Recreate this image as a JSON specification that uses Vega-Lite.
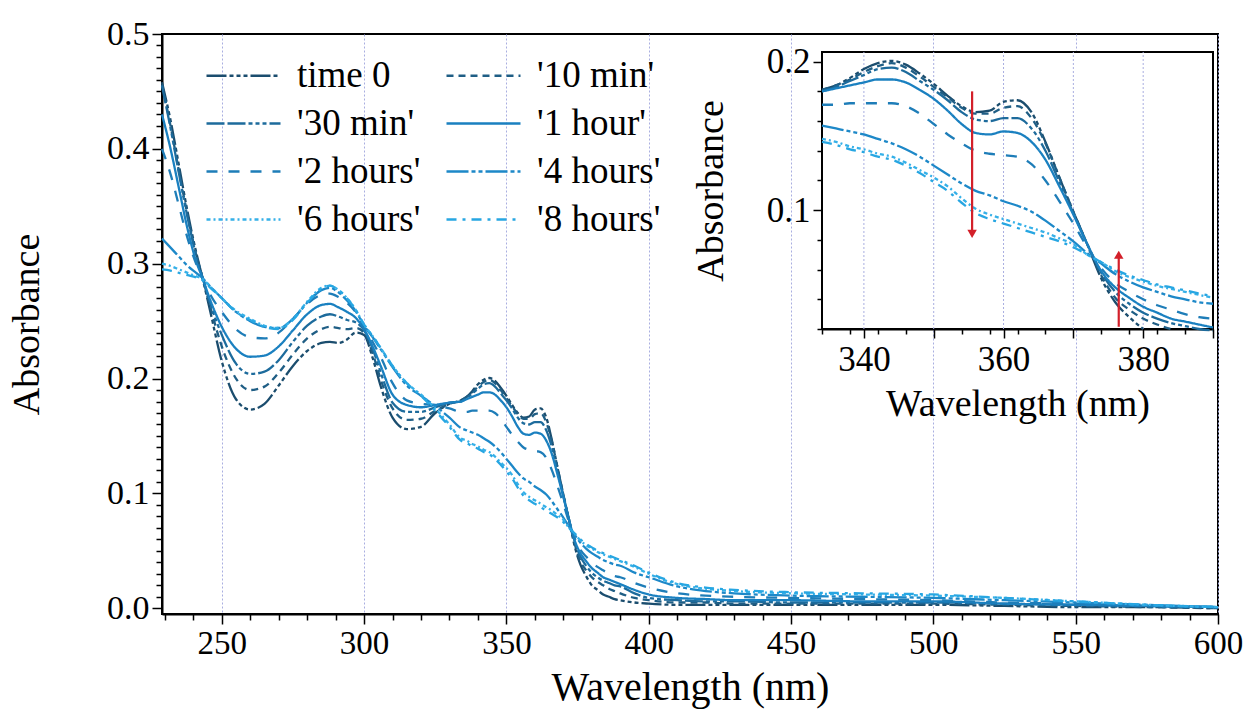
{
"$schema": "https://vega.github.io/schema/vega-lite/v6.json",
"width": 1056, "height": 580,
"autosize": {"type": "none"},
"padding": {"left": 162, "top": 34, "right": 30, "bottom": 97},
"background": "white",
"config": {
  "font": "'Liberation Serif', 'DejaVu Serif', serif",
  "view": {"stroke": "black", "strokeWidth": 2},
  "axis": {"labelFont": "'Liberation Serif', 'DejaVu Serif', serif", "titleFont": "'Liberation Serif', 'DejaVu Serif', serif", "labelColor": "black", "titleColor": "black", "domainColor": "black", "tickColor": "black", "titleFontWeight": "normal", "domainWidth": 2, "tickWidth": 1.5, "labelOverlap": false, "labelFlush": false},
  "legend": {"labelFont": "'Liberation Serif', 'DejaVu Serif', serif", "labelColor": "black"}
},
"datasets": {
"spec": [
{"t":"time 0","w":229,"a":0.458},{"t":"time 0","w":232,"a":0.425},{"t":"time 0","w":235,"a":0.385},{"t":"time 0","w":238,"a":0.345},{"t":"time 0","w":241,"a":0.31},{"t":"time 0","w":243,"a":0.29},{"t":"time 0","w":246,"a":0.258},{"t":"time 0","w":250,"a":0.215},{"t":"time 0","w":255,"a":0.182},{"t":"time 0","w":260,"a":0.173},{"t":"time 0","w":265,"a":0.178},{"t":"time 0","w":270,"a":0.194},{"t":"time 0","w":275,"a":0.211},{"t":"time 0","w":280,"a":0.224},{"t":"time 0","w":285,"a":0.231},{"t":"time 0","w":288,"a":0.232},{"t":"time 0","w":291,"a":0.231},{"t":"time 0","w":294,"a":0.234},{"t":"time 0","w":297,"a":0.24},{"t":"time 0","w":300,"a":0.238},{"t":"time 0","w":303,"a":0.218},{"t":"time 0","w":306,"a":0.192},{"t":"time 0","w":310,"a":0.166},{"t":"time 0","w":315,"a":0.156},{"t":"time 0","w":320,"a":0.158},{"t":"time 0","w":325,"a":0.17},{"t":"time 0","w":330,"a":0.178},
{"t":"time 0","w":334,"a":0.181},{"t":"time 0","w":336,"a":0.184},{"t":"time 0","w":338,"a":0.189},{"t":"time 0","w":340,"a":0.195},{"t":"time 0","w":342,"a":0.199},{"t":"time 0","w":344,"a":0.2005},{"t":"time 0","w":346,"a":0.198},{"t":"time 0","w":348,"a":0.192},{"t":"time 0","w":350,"a":0.185},{"t":"time 0","w":352,"a":0.177},{"t":"time 0","w":354,"a":0.17},{"t":"time 0","w":356,"a":0.166},{"t":"time 0","w":358,"a":0.167},{"t":"time 0","w":360,"a":0.173},{"t":"time 0","w":362,"a":0.174},{"t":"time 0","w":364,"a":0.166},{"t":"time 0","w":366,"a":0.146},{"t":"time 0","w":368,"a":0.122},{"t":"time 0","w":370,"a":0.099},{"t":"time 0","w":372,"a":0.077},{"t":"time 0","w":374,"a":0.054},{"t":"time 0","w":376,"a":0.038},{"t":"time 0","w":378,"a":0.028},{"t":"time 0","w":380,"a":0.02},{"t":"time 0","w":382,"a":0.016},{"t":"time 0","w":384,"a":0.012},{"t":"time 0","w":386,"a":0.01},{"t":"time 0","w":388,"a":0.008},{"t":"time 0","w":390,"a":0.007},
{"t":"time 0","w":395,"a":0.005},{"t":"time 0","w":400,"a":0.004},{"t":"time 0","w":410,"a":0.003},{"t":"time 0","w":420,"a":0.003},{"t":"time 0","w":430,"a":0.003},{"t":"time 0","w":450,"a":0.003},{"t":"time 0","w":475,"a":0.003},{"t":"time 0","w":500,"a":0.003},{"t":"time 0","w":525,"a":0.002},{"t":"time 0","w":550,"a":0.001},{"t":"time 0","w":575,"a":0.001},{"t":"time 0","w":600,"a":0.0},

{"t":"'10 min'","w":229,"a":0.456},{"t":"'10 min'","w":232,"a":0.42},{"t":"'10 min'","w":235,"a":0.38},{"t":"'10 min'","w":238,"a":0.342},{"t":"'10 min'","w":241,"a":0.308},{"t":"'10 min'","w":243,"a":0.29},{"t":"'10 min'","w":246,"a":0.262},{"t":"'10 min'","w":250,"a":0.228},{"t":"'10 min'","w":255,"a":0.2},{"t":"'10 min'","w":260,"a":0.19},{"t":"'10 min'","w":265,"a":0.193},{"t":"'10 min'","w":270,"a":0.205},{"t":"'10 min'","w":275,"a":0.221},{"t":"'10 min'","w":280,"a":0.235},{"t":"'10 min'","w":285,"a":0.243},{"t":"'10 min'","w":288,"a":0.245},{"t":"'10 min'","w":291,"a":0.244},{"t":"'10 min'","w":294,"a":0.243},{"t":"'10 min'","w":297,"a":0.244},{"t":"'10 min'","w":300,"a":0.24},{"t":"'10 min'","w":303,"a":0.222},{"t":"'10 min'","w":306,"a":0.198},{"t":"'10 min'","w":310,"a":0.174},{"t":"'10 min'","w":315,"a":0.164},{"t":"'10 min'","w":320,"a":0.165},{"t":"'10 min'","w":325,"a":0.172},{"t":"'10 min'","w":330,"a":0.178},
{"t":"'10 min'","w":334,"a":0.181},{"t":"'10 min'","w":336,"a":0.184},{"t":"'10 min'","w":338,"a":0.188},{"t":"'10 min'","w":340,"a":0.193},{"t":"'10 min'","w":342,"a":0.197},{"t":"'10 min'","w":344,"a":0.199},{"t":"'10 min'","w":346,"a":0.196},{"t":"'10 min'","w":348,"a":0.19},{"t":"'10 min'","w":350,"a":0.183},{"t":"'10 min'","w":352,"a":0.176},{"t":"'10 min'","w":354,"a":0.169},{"t":"'10 min'","w":356,"a":0.165},{"t":"'10 min'","w":358,"a":0.165},{"t":"'10 min'","w":360,"a":0.169},{"t":"'10 min'","w":362,"a":0.17},{"t":"'10 min'","w":364,"a":0.162},{"t":"'10 min'","w":366,"a":0.145},{"t":"'10 min'","w":368,"a":0.122},{"t":"'10 min'","w":370,"a":0.099},{"t":"'10 min'","w":372,"a":0.077},{"t":"'10 min'","w":374,"a":0.056},{"t":"'10 min'","w":376,"a":0.041},{"t":"'10 min'","w":378,"a":0.033},{"t":"'10 min'","w":380,"a":0.027},{"t":"'10 min'","w":382,"a":0.023},{"t":"'10 min'","w":384,"a":0.02},{"t":"'10 min'","w":386,"a":0.017},{"t":"'10 min'","w":388,"a":0.015},{"t":"'10 min'","w":390,"a":0.013},
{"t":"'10 min'","w":395,"a":0.009},{"t":"'10 min'","w":400,"a":0.007},{"t":"'10 min'","w":410,"a":0.005},{"t":"'10 min'","w":420,"a":0.005},{"t":"'10 min'","w":430,"a":0.004},{"t":"'10 min'","w":450,"a":0.004},{"t":"'10 min'","w":475,"a":0.004},{"t":"'10 min'","w":500,"a":0.004},{"t":"'10 min'","w":525,"a":0.003},{"t":"'10 min'","w":550,"a":0.002},{"t":"'10 min'","w":575,"a":0.001},{"t":"'10 min'","w":600,"a":0.0},

{"t":"'30 min'","w":229,"a":0.455},{"t":"'30 min'","w":232,"a":0.418},{"t":"'30 min'","w":235,"a":0.378},{"t":"'30 min'","w":238,"a":0.34},{"t":"'30 min'","w":241,"a":0.307},{"t":"'30 min'","w":243,"a":0.29},{"t":"'30 min'","w":246,"a":0.265},{"t":"'30 min'","w":250,"a":0.238},{"t":"'30 min'","w":255,"a":0.213},{"t":"'30 min'","w":260,"a":0.204},{"t":"'30 min'","w":265,"a":0.206},{"t":"'30 min'","w":270,"a":0.216},{"t":"'30 min'","w":275,"a":0.232},{"t":"'30 min'","w":280,"a":0.246},{"t":"'30 min'","w":285,"a":0.254},{"t":"'30 min'","w":288,"a":0.256},{"t":"'30 min'","w":291,"a":0.254},{"t":"'30 min'","w":294,"a":0.251},{"t":"'30 min'","w":297,"a":0.249},{"t":"'30 min'","w":300,"a":0.242},{"t":"'30 min'","w":303,"a":0.226},{"t":"'30 min'","w":306,"a":0.204},{"t":"'30 min'","w":310,"a":0.179},{"t":"'30 min'","w":315,"a":0.171},{"t":"'30 min'","w":320,"a":0.171},{"t":"'30 min'","w":325,"a":0.175},{"t":"'30 min'","w":330,"a":0.179},
{"t":"'30 min'","w":334,"a":0.18},{"t":"'30 min'","w":336,"a":0.183},{"t":"'30 min'","w":338,"a":0.187},{"t":"'30 min'","w":340,"a":0.191},{"t":"'30 min'","w":342,"a":0.195},{"t":"'30 min'","w":344,"a":0.196},{"t":"'30 min'","w":346,"a":0.193},{"t":"'30 min'","w":348,"a":0.187},{"t":"'30 min'","w":350,"a":0.181},{"t":"'30 min'","w":352,"a":0.174},{"t":"'30 min'","w":354,"a":0.166},{"t":"'30 min'","w":356,"a":0.161},{"t":"'30 min'","w":358,"a":0.16},{"t":"'30 min'","w":360,"a":0.162},{"t":"'30 min'","w":362,"a":0.162},{"t":"'30 min'","w":364,"a":0.155},{"t":"'30 min'","w":366,"a":0.14},{"t":"'30 min'","w":368,"a":0.119},{"t":"'30 min'","w":370,"a":0.098},{"t":"'30 min'","w":372,"a":0.077},{"t":"'30 min'","w":374,"a":0.058},{"t":"'30 min'","w":376,"a":0.045},{"t":"'30 min'","w":378,"a":0.037},{"t":"'30 min'","w":380,"a":0.031},{"t":"'30 min'","w":382,"a":0.027},{"t":"'30 min'","w":384,"a":0.024},{"t":"'30 min'","w":386,"a":0.022},{"t":"'30 min'","w":388,"a":0.02},{"t":"'30 min'","w":390,"a":0.019},
{"t":"'30 min'","w":395,"a":0.013},{"t":"'30 min'","w":400,"a":0.009},{"t":"'30 min'","w":410,"a":0.007},{"t":"'30 min'","w":420,"a":0.006},{"t":"'30 min'","w":430,"a":0.006},{"t":"'30 min'","w":450,"a":0.005},{"t":"'30 min'","w":475,"a":0.005},{"t":"'30 min'","w":500,"a":0.005},{"t":"'30 min'","w":525,"a":0.004},{"t":"'30 min'","w":550,"a":0.003},{"t":"'30 min'","w":575,"a":0.002},{"t":"'30 min'","w":600,"a":0.001},

{"t":"'1 hour'","w":229,"a":0.43},{"t":"'1 hour'","w":232,"a":0.4},{"t":"'1 hour'","w":235,"a":0.365},{"t":"'1 hour'","w":238,"a":0.33},{"t":"'1 hour'","w":241,"a":0.302},{"t":"'1 hour'","w":243,"a":0.289},{"t":"'1 hour'","w":246,"a":0.268},{"t":"'1 hour'","w":250,"a":0.245},{"t":"'1 hour'","w":255,"a":0.226},{"t":"'1 hour'","w":260,"a":0.219},{"t":"'1 hour'","w":265,"a":0.22},{"t":"'1 hour'","w":270,"a":0.228},{"t":"'1 hour'","w":275,"a":0.242},{"t":"'1 hour'","w":280,"a":0.256},{"t":"'1 hour'","w":285,"a":0.264},{"t":"'1 hour'","w":288,"a":0.265},{"t":"'1 hour'","w":291,"a":0.262},{"t":"'1 hour'","w":294,"a":0.258},{"t":"'1 hour'","w":297,"a":0.253},{"t":"'1 hour'","w":300,"a":0.243},{"t":"'1 hour'","w":303,"a":0.228},{"t":"'1 hour'","w":306,"a":0.21},{"t":"'1 hour'","w":310,"a":0.186},{"t":"'1 hour'","w":315,"a":0.177},{"t":"'1 hour'","w":320,"a":0.175},{"t":"'1 hour'","w":325,"a":0.177},{"t":"'1 hour'","w":330,"a":0.179},
{"t":"'1 hour'","w":334,"a":0.18},{"t":"'1 hour'","w":336,"a":0.182},{"t":"'1 hour'","w":338,"a":0.184},{"t":"'1 hour'","w":340,"a":0.186},{"t":"'1 hour'","w":342,"a":0.188},{"t":"'1 hour'","w":344,"a":0.188},{"t":"'1 hour'","w":346,"a":0.186},{"t":"'1 hour'","w":348,"a":0.181},{"t":"'1 hour'","w":350,"a":0.175},{"t":"'1 hour'","w":352,"a":0.167},{"t":"'1 hour'","w":354,"a":0.158},{"t":"'1 hour'","w":356,"a":0.152},{"t":"'1 hour'","w":358,"a":0.151},{"t":"'1 hour'","w":360,"a":0.153},{"t":"'1 hour'","w":362,"a":0.152},{"t":"'1 hour'","w":364,"a":0.146},{"t":"'1 hour'","w":366,"a":0.134},{"t":"'1 hour'","w":368,"a":0.116},{"t":"'1 hour'","w":370,"a":0.097},{"t":"'1 hour'","w":372,"a":0.077},{"t":"'1 hour'","w":374,"a":0.059},{"t":"'1 hour'","w":376,"a":0.048},{"t":"'1 hour'","w":378,"a":0.041},{"t":"'1 hour'","w":380,"a":0.035},{"t":"'1 hour'","w":382,"a":0.031},{"t":"'1 hour'","w":384,"a":0.027},{"t":"'1 hour'","w":386,"a":0.025},{"t":"'1 hour'","w":388,"a":0.023},{"t":"'1 hour'","w":390,"a":0.021},
{"t":"'1 hour'","w":395,"a":0.016},{"t":"'1 hour'","w":400,"a":0.012},{"t":"'1 hour'","w":410,"a":0.009},{"t":"'1 hour'","w":420,"a":0.008},{"t":"'1 hour'","w":430,"a":0.007},{"t":"'1 hour'","w":450,"a":0.007},{"t":"'1 hour'","w":475,"a":0.006},{"t":"'1 hour'","w":500,"a":0.006},{"t":"'1 hour'","w":525,"a":0.004},{"t":"'1 hour'","w":550,"a":0.003},{"t":"'1 hour'","w":575,"a":0.002},{"t":"'1 hour'","w":600,"a":0.001},

{"t":"'2 hours'","w":229,"a":0.4},{"t":"'2 hours'","w":232,"a":0.378},{"t":"'2 hours'","w":235,"a":0.35},{"t":"'2 hours'","w":238,"a":0.322},{"t":"'2 hours'","w":241,"a":0.3},{"t":"'2 hours'","w":243,"a":0.289},{"t":"'2 hours'","w":246,"a":0.273},{"t":"'2 hours'","w":250,"a":0.258},{"t":"'2 hours'","w":255,"a":0.243},{"t":"'2 hours'","w":260,"a":0.236},{"t":"'2 hours'","w":265,"a":0.235},{"t":"'2 hours'","w":270,"a":0.24},{"t":"'2 hours'","w":275,"a":0.252},{"t":"'2 hours'","w":280,"a":0.265},{"t":"'2 hours'","w":285,"a":0.273},{"t":"'2 hours'","w":288,"a":0.274},{"t":"'2 hours'","w":291,"a":0.271},{"t":"'2 hours'","w":294,"a":0.266},{"t":"'2 hours'","w":297,"a":0.258},{"t":"'2 hours'","w":300,"a":0.245},{"t":"'2 hours'","w":303,"a":0.232},{"t":"'2 hours'","w":306,"a":0.218},{"t":"'2 hours'","w":310,"a":0.196},{"t":"'2 hours'","w":315,"a":0.181},{"t":"'2 hours'","w":320,"a":0.178},{"t":"'2 hours'","w":325,"a":0.177},{"t":"'2 hours'","w":330,"a":0.174},
{"t":"'2 hours'","w":334,"a":0.171},{"t":"'2 hours'","w":336,"a":0.171},{"t":"'2 hours'","w":338,"a":0.172},{"t":"'2 hours'","w":340,"a":0.172},{"t":"'2 hours'","w":342,"a":0.172},{"t":"'2 hours'","w":344,"a":0.172},{"t":"'2 hours'","w":346,"a":0.17},{"t":"'2 hours'","w":348,"a":0.165},{"t":"'2 hours'","w":350,"a":0.158},{"t":"'2 hours'","w":352,"a":0.151},{"t":"'2 hours'","w":354,"a":0.145},{"t":"'2 hours'","w":356,"a":0.14},{"t":"'2 hours'","w":358,"a":0.138},{"t":"'2 hours'","w":360,"a":0.137},{"t":"'2 hours'","w":362,"a":0.136},{"t":"'2 hours'","w":364,"a":0.131},{"t":"'2 hours'","w":366,"a":0.12},{"t":"'2 hours'","w":368,"a":0.106},{"t":"'2 hours'","w":370,"a":0.091},{"t":"'2 hours'","w":372,"a":0.075},{"t":"'2 hours'","w":374,"a":0.061},{"t":"'2 hours'","w":376,"a":0.051},{"t":"'2 hours'","w":378,"a":0.045},{"t":"'2 hours'","w":380,"a":0.04},{"t":"'2 hours'","w":382,"a":0.036},{"t":"'2 hours'","w":384,"a":0.033},{"t":"'2 hours'","w":386,"a":0.03},{"t":"'2 hours'","w":388,"a":0.028},{"t":"'2 hours'","w":390,"a":0.027},
{"t":"'2 hours'","w":395,"a":0.022},{"t":"'2 hours'","w":400,"a":0.018},{"t":"'2 hours'","w":410,"a":0.013},{"t":"'2 hours'","w":420,"a":0.011},{"t":"'2 hours'","w":430,"a":0.01},{"t":"'2 hours'","w":450,"a":0.009},{"t":"'2 hours'","w":475,"a":0.008},{"t":"'2 hours'","w":500,"a":0.007},{"t":"'2 hours'","w":525,"a":0.005},{"t":"'2 hours'","w":550,"a":0.004},{"t":"'2 hours'","w":575,"a":0.002},{"t":"'2 hours'","w":600,"a":0.001},

{"t":"'4 hours'","w":229,"a":0.322},{"t":"'4 hours'","w":232,"a":0.314},{"t":"'4 hours'","w":235,"a":0.306},{"t":"'4 hours'","w":238,"a":0.298},{"t":"'4 hours'","w":241,"a":0.292},{"t":"'4 hours'","w":243,"a":0.288},{"t":"'4 hours'","w":246,"a":0.28},{"t":"'4 hours'","w":250,"a":0.27},{"t":"'4 hours'","w":255,"a":0.258},{"t":"'4 hours'","w":260,"a":0.25},{"t":"'4 hours'","w":265,"a":0.245},{"t":"'4 hours'","w":270,"a":0.244},{"t":"'4 hours'","w":275,"a":0.252},{"t":"'4 hours'","w":280,"a":0.266},{"t":"'4 hours'","w":285,"a":0.277},{"t":"'4 hours'","w":288,"a":0.279},{"t":"'4 hours'","w":291,"a":0.275},{"t":"'4 hours'","w":294,"a":0.268},{"t":"'4 hours'","w":297,"a":0.259},{"t":"'4 hours'","w":300,"a":0.246},{"t":"'4 hours'","w":303,"a":0.236},{"t":"'4 hours'","w":306,"a":0.225},{"t":"'4 hours'","w":310,"a":0.21},{"t":"'4 hours'","w":315,"a":0.194},{"t":"'4 hours'","w":320,"a":0.185},{"t":"'4 hours'","w":325,"a":0.176},{"t":"'4 hours'","w":330,"a":0.166},
{"t":"'4 hours'","w":334,"a":0.157},{"t":"'4 hours'","w":336,"a":0.155},{"t":"'4 hours'","w":338,"a":0.153},{"t":"'4 hours'","w":340,"a":0.151},{"t":"'4 hours'","w":342,"a":0.148},{"t":"'4 hours'","w":344,"a":0.145},{"t":"'4 hours'","w":346,"a":0.141},{"t":"'4 hours'","w":348,"a":0.136},{"t":"'4 hours'","w":350,"a":0.13},{"t":"'4 hours'","w":352,"a":0.124},{"t":"'4 hours'","w":354,"a":0.118},{"t":"'4 hours'","w":356,"a":0.113},{"t":"'4 hours'","w":358,"a":0.11},{"t":"'4 hours'","w":360,"a":0.106},{"t":"'4 hours'","w":362,"a":0.103},{"t":"'4 hours'","w":364,"a":0.099},{"t":"'4 hours'","w":366,"a":0.093},{"t":"'4 hours'","w":368,"a":0.086},{"t":"'4 hours'","w":370,"a":0.079},{"t":"'4 hours'","w":372,"a":0.071},{"t":"'4 hours'","w":374,"a":0.064},{"t":"'4 hours'","w":376,"a":0.057},{"t":"'4 hours'","w":378,"a":0.052},{"t":"'4 hours'","w":380,"a":0.048},{"t":"'4 hours'","w":382,"a":0.045},{"t":"'4 hours'","w":384,"a":0.042},{"t":"'4 hours'","w":386,"a":0.04},{"t":"'4 hours'","w":388,"a":0.038},{"t":"'4 hours'","w":390,"a":0.037},
{"t":"'4 hours'","w":395,"a":0.031},{"t":"'4 hours'","w":400,"a":0.027},{"t":"'4 hours'","w":410,"a":0.019},{"t":"'4 hours'","w":420,"a":0.015},{"t":"'4 hours'","w":430,"a":0.013},{"t":"'4 hours'","w":450,"a":0.011},{"t":"'4 hours'","w":475,"a":0.01},{"t":"'4 hours'","w":500,"a":0.009},{"t":"'4 hours'","w":525,"a":0.007},{"t":"'4 hours'","w":550,"a":0.005},{"t":"'4 hours'","w":575,"a":0.003},{"t":"'4 hours'","w":600,"a":0.001},

{"t":"'6 hours'","w":229,"a":0.3},{"t":"'6 hours'","w":232,"a":0.298},{"t":"'6 hours'","w":235,"a":0.295},{"t":"'6 hours'","w":238,"a":0.292},{"t":"'6 hours'","w":241,"a":0.289},{"t":"'6 hours'","w":243,"a":0.287},{"t":"'6 hours'","w":246,"a":0.28},{"t":"'6 hours'","w":250,"a":0.27},{"t":"'6 hours'","w":255,"a":0.259},{"t":"'6 hours'","w":260,"a":0.252},{"t":"'6 hours'","w":265,"a":0.246},{"t":"'6 hours'","w":270,"a":0.244},{"t":"'6 hours'","w":275,"a":0.252},{"t":"'6 hours'","w":280,"a":0.267},{"t":"'6 hours'","w":285,"a":0.279},{"t":"'6 hours'","w":288,"a":0.281},{"t":"'6 hours'","w":291,"a":0.277},{"t":"'6 hours'","w":294,"a":0.27},{"t":"'6 hours'","w":297,"a":0.26},{"t":"'6 hours'","w":300,"a":0.247},{"t":"'6 hours'","w":303,"a":0.237},{"t":"'6 hours'","w":306,"a":0.226},{"t":"'6 hours'","w":310,"a":0.211},{"t":"'6 hours'","w":315,"a":0.196},{"t":"'6 hours'","w":320,"a":0.186},{"t":"'6 hours'","w":325,"a":0.174},{"t":"'6 hours'","w":330,"a":0.16},
{"t":"'6 hours'","w":334,"a":0.148},{"t":"'6 hours'","w":336,"a":0.146},{"t":"'6 hours'","w":338,"a":0.143},{"t":"'6 hours'","w":340,"a":0.141},{"t":"'6 hours'","w":342,"a":0.138},{"t":"'6 hours'","w":344,"a":0.136},{"t":"'6 hours'","w":346,"a":0.132},{"t":"'6 hours'","w":348,"a":0.127},{"t":"'6 hours'","w":350,"a":0.122},{"t":"'6 hours'","w":352,"a":0.116},{"t":"'6 hours'","w":354,"a":0.108},{"t":"'6 hours'","w":356,"a":0.101},{"t":"'6 hours'","w":358,"a":0.097},{"t":"'6 hours'","w":360,"a":0.094},{"t":"'6 hours'","w":362,"a":0.091},{"t":"'6 hours'","w":364,"a":0.088},{"t":"'6 hours'","w":366,"a":0.085},{"t":"'6 hours'","w":368,"a":0.081},{"t":"'6 hours'","w":370,"a":0.077},{"t":"'6 hours'","w":372,"a":0.07},{"t":"'6 hours'","w":374,"a":0.065},{"t":"'6 hours'","w":376,"a":0.059},{"t":"'6 hours'","w":378,"a":0.055},{"t":"'6 hours'","w":380,"a":0.052},{"t":"'6 hours'","w":382,"a":0.049},{"t":"'6 hours'","w":384,"a":0.047},{"t":"'6 hours'","w":386,"a":0.045},{"t":"'6 hours'","w":388,"a":0.043},{"t":"'6 hours'","w":390,"a":0.041},
{"t":"'6 hours'","w":395,"a":0.036},{"t":"'6 hours'","w":400,"a":0.03},{"t":"'6 hours'","w":410,"a":0.021},{"t":"'6 hours'","w":420,"a":0.017},{"t":"'6 hours'","w":430,"a":0.015},{"t":"'6 hours'","w":450,"a":0.013},{"t":"'6 hours'","w":475,"a":0.012},{"t":"'6 hours'","w":500,"a":0.011},{"t":"'6 hours'","w":525,"a":0.009},{"t":"'6 hours'","w":550,"a":0.006},{"t":"'6 hours'","w":575,"a":0.003},{"t":"'6 hours'","w":600,"a":0.001},

{"t":"'8 hours'","w":229,"a":0.295},{"t":"'8 hours'","w":232,"a":0.294},{"t":"'8 hours'","w":235,"a":0.292},{"t":"'8 hours'","w":238,"a":0.29},{"t":"'8 hours'","w":241,"a":0.288},{"t":"'8 hours'","w":243,"a":0.286},{"t":"'8 hours'","w":246,"a":0.279},{"t":"'8 hours'","w":250,"a":0.27},{"t":"'8 hours'","w":255,"a":0.258},{"t":"'8 hours'","w":260,"a":0.251},{"t":"'8 hours'","w":265,"a":0.245},{"t":"'8 hours'","w":270,"a":0.243},{"t":"'8 hours'","w":275,"a":0.251},{"t":"'8 hours'","w":280,"a":0.266},{"t":"'8 hours'","w":285,"a":0.278},{"t":"'8 hours'","w":288,"a":0.281},{"t":"'8 hours'","w":291,"a":0.277},{"t":"'8 hours'","w":294,"a":0.27},{"t":"'8 hours'","w":297,"a":0.26},{"t":"'8 hours'","w":300,"a":0.247},{"t":"'8 hours'","w":303,"a":0.237},{"t":"'8 hours'","w":306,"a":0.226},{"t":"'8 hours'","w":310,"a":0.211},{"t":"'8 hours'","w":315,"a":0.196},{"t":"'8 hours'","w":320,"a":0.185},{"t":"'8 hours'","w":325,"a":0.172},{"t":"'8 hours'","w":330,"a":0.158},
{"t":"'8 hours'","w":334,"a":0.146},{"t":"'8 hours'","w":336,"a":0.144},{"t":"'8 hours'","w":338,"a":0.141},{"t":"'8 hours'","w":340,"a":0.139},{"t":"'8 hours'","w":342,"a":0.136},{"t":"'8 hours'","w":344,"a":0.134},{"t":"'8 hours'","w":346,"a":0.13},{"t":"'8 hours'","w":348,"a":0.125},{"t":"'8 hours'","w":350,"a":0.119},{"t":"'8 hours'","w":352,"a":0.113},{"t":"'8 hours'","w":354,"a":0.105},{"t":"'8 hours'","w":356,"a":0.098},{"t":"'8 hours'","w":358,"a":0.094},{"t":"'8 hours'","w":360,"a":0.091},{"t":"'8 hours'","w":362,"a":0.088},{"t":"'8 hours'","w":364,"a":0.085},{"t":"'8 hours'","w":366,"a":0.082},{"t":"'8 hours'","w":368,"a":0.079},{"t":"'8 hours'","w":370,"a":0.075},{"t":"'8 hours'","w":372,"a":0.07},{"t":"'8 hours'","w":374,"a":0.065},{"t":"'8 hours'","w":376,"a":0.06},{"t":"'8 hours'","w":378,"a":0.056},{"t":"'8 hours'","w":380,"a":0.053},{"t":"'8 hours'","w":382,"a":0.05},{"t":"'8 hours'","w":384,"a":0.048},{"t":"'8 hours'","w":386,"a":0.046},{"t":"'8 hours'","w":388,"a":0.044},{"t":"'8 hours'","w":390,"a":0.042},
{"t":"'8 hours'","w":395,"a":0.037},{"t":"'8 hours'","w":400,"a":0.031},{"t":"'8 hours'","w":410,"a":0.022},{"t":"'8 hours'","w":420,"a":0.018},{"t":"'8 hours'","w":430,"a":0.016},{"t":"'8 hours'","w":450,"a":0.014},{"t":"'8 hours'","w":475,"a":0.013},{"t":"'8 hours'","w":500,"a":0.012},{"t":"'8 hours'","w":525,"a":0.009},{"t":"'8 hours'","w":550,"a":0.006},{"t":"'8 hours'","w":575,"a":0.003},{"t":"'8 hours'","w":600,"a":0.001}
],
"igrid": [{"g":340},{"g":350},{"g":360},{"g":370},{"g":380}],
"arrows": [{"w":355.5,"from":0.18,"to":0.084,"d":"down"},{"w":376.5,"from":0.0215,"to":0.07,"d":"up"}]
},
"layer": [
 {
  "data": {"name": "spec"},
  "mark": {"type": "line", "strokeWidth": 2.3, "interpolate": "monotone"},
  "encoding": {
   "x": {"field": "w", "type": "quantitative", "title": "Wavelength (nm)",
     "scale": {"domain": [229, 600], "nice": false, "zero": false},
     "axis": {"values": [230,240,250,260,270,280,290,300,310,320,330,340,350,360,370,380,390,400,410,420,430,440,450,460,470,480,490,500,510,520,530,540,550,560,570,580,590,600],
       "labelExpr": "datum.value % 50 === 0 ? datum.label : ''", "format": "d", "labelOverlap": false,
       "labelFontSize": 33, "labelPadding": 3,
       "tickSize": {"condition": {"test": "datum.value % 50 === 0", "value": 10}, "value": 6},
       "grid": true, "gridDash": [2, 2], "gridColor": "#a9aee0", "gridWidth": 1,
       "gridOpacity": {"condition": {"test": "datum.value % 50 === 0", "value": 1}, "value": 0},
       "titleFontSize": 40, "titlePadding": 7}},
   "y": {"field": "a", "type": "quantitative", "title": "Absorbance",
     "scale": {"domain": [-0.005, 0.5], "nice": false, "zero": false},
     "axis": {"values": [0,0.01,0.02,0.03,0.04,0.05,0.06,0.07,0.08,0.09,0.1,0.11,0.12,0.13,0.14,0.15,0.16,0.17,0.18,0.19,0.2,0.21,0.22,0.23,0.24,0.25,0.26,0.27,0.28,0.29,0.3,0.31,0.32,0.33,0.34,0.35,0.36,0.37,0.38,0.39,0.4,0.41,0.42,0.43,0.44,0.45,0.46,0.47,0.48,0.49,0.5],
       "labelExpr": "abs(datum.value*10 - round(datum.value*10)) < 0.001 ? format(datum.value, '.1f') : ''", "labelOverlap": false,
       "labelFontSize": 34, "labelPadding": 3,
       "tickSize": {"condition": {"test": "abs(datum.value*10 - round(datum.value*10)) < 0.001", "value": 10}, "value": 6},
       "grid": false, "titleFontSize": 38, "titlePadding": 60}},
   "color": {"field": "t", "type": "nominal",
     "scale": {"domain": ["time 0","'10 min'","'30 min'","'1 hour'","'2 hours'","'4 hours'","'6 hours'","'8 hours'"],
               "range": ["#1b4d6e","#1f5e85","#1d6b9c","#1a80c0","#1e7db8","#1d88c8","#35b0e8","#27a6e2"]},
     "legend": {"orient": "none", "legendX": 60, "legendY": 20, "columns": 2, "direction": "horizontal", "title": null,
       "symbolType": "M-1.85,0H1.85", "symbolSize": 1600, "symbolStrokeWidth": 2.5,
       "labelFontSize": 37, "labelOffset": 32, "labelLimit": 400, "rowPadding": 8, "columnPadding": 20, "padding": 0, "symbolLimit": 0}},
   "strokeDash": {"field": "t", "type": "nominal",
     "scale": {"domain": ["time 0","'10 min'","'30 min'","'1 hour'","'2 hours'","'4 hours'","'6 hours'","'8 hours'"],
               "range": [[20,3,4,3,4,3,4,3],[7,5],[18,3,18,3,4,3,4,3,4,3],[1,0],[11,11],[22,3,4,3,4,3],[4,3,2,3],[10,6,3,6]]},
     "legend": {"orient": "none", "legendX": 60, "legendY": 20, "columns": 2, "direction": "horizontal", "title": null,
       "symbolType": "M-1.85,0H1.85", "symbolSize": 1600, "symbolStrokeWidth": 2.5,
       "labelFontSize": 37, "labelOffset": 32, "labelLimit": 400, "rowPadding": 8, "columnPadding": 20, "padding": 0, "symbolLimit": 0}}
  }
 },
 {
  "layer": [
   {
    "layer": [
     {
      "data": {"values": [{}]},
      "mark": {"type": "rect", "fill": "white", "stroke": "black", "strokeWidth": 2},
      "encoding": {
       "x": {"datum": 334, "type": "quantitative",
         "scale": {"domain": [334, 390], "range": [660, 1051], "nice": false, "zero": false},
         "axis": {"orient": "bottom", "offset": -285, "title": null, "labels": false,
           "values": [334,336,338,340,342,344,346,348,350,352,354,356,358,360,362,364,366,368,370,372,374,376,378,380,382,384,386,388,390],
           "tickSize": {"condition": {"test": "abs(datum.value/10 - round(datum.value/10)) < 0.01", "value": 9}, "value": 5},
           "grid": false}},
       "x2": {"datum": 390},
       "y": {"datum": 0.02, "type": "quantitative",
         "scale": {"domain": [0.02, 0.2065], "range": [295, 18], "nice": false, "zero": false},
         "axis": {"orient": "left", "offset": -660, "title": "Absorbance",
           "values": [0.02,0.03,0.04,0.05,0.06,0.07,0.08,0.09,0.1,0.11,0.12,0.13,0.14,0.15,0.16,0.17,0.18,0.19,0.2],
           "labelExpr": "abs(datum.value*10 - round(datum.value*10)) < 0.001 ? format(datum.value, '.1f') : ''", "labelOverlap": false,
           "labelFontSize": 35, "labelPadding": 3,
           "tickSize": {"condition": {"test": "abs(datum.value*10 - round(datum.value*10)) < 0.001", "value": 9}, "value": 5},
           "grid": false, "titleFontSize": 38, "titlePadding": 36}},
       "y2": {"datum": 0.2065}
      }
     },
     {
      "data": {"name": "igrid"},
      "mark": {"type": "rule", "color": "#a9aee0", "strokeDash": [2, 2], "strokeWidth": 1},
      "encoding": {
       "x": {"field": "g", "type": "quantitative", "title": null},
       "y": {"datum": 0.02, "type": "quantitative"},
       "y2": {"datum": 0.2065}
      }
     },
     {
      "data": {"name": "spec"},
      "transform": [{"filter": {"field": "w", "range": [334, 390]}}, {"filter": {"field": "a", "gte": 0.019}}],
      "mark": {"type": "line", "strokeWidth": 2.3, "interpolate": "monotone"},
      "encoding": {
       "x": {"field": "w", "type": "quantitative", "title": null},
       "y": {"field": "a", "type": "quantitative", "title": "Absorbance"},
       "color": {"field": "t", "type": "nominal"},
       "strokeDash": {"field": "t", "type": "nominal"}
      }
     },
     {
      "data": {"name": "arrows"},
      "mark": {"type": "rule", "color": "#d3202a", "strokeWidth": 2.2},
      "encoding": {
       "x": {"field": "w", "type": "quantitative", "title": null},
       "y": {"field": "from", "type": "quantitative", "title": "Absorbance"},
       "y2": {"field": "to"}
      }
     },
     {
      "data": {"name": "arrows"},
      "mark": {"type": "point", "filled": true, "color": "#d3202a", "opacity": 1, "size": 90},
      "encoding": {
       "x": {"field": "w", "type": "quantitative", "title": null},
       "y": {"field": "to", "type": "quantitative", "title": "Absorbance"},
       "shape": {"field": "d", "type": "nominal", "scale": {"domain": ["down", "up"], "range": ["triangle-down", "triangle-up"]}, "legend": null}
      }
     }
    ]
   },
   {
    "data": {"values": [{}]},
    "mark": {"type": "rule", "opacity": 0},
    "encoding": {
     "x": {"datum": 360, "type": "quantitative",
       "scale": {"domain": [334, 390], "range": [660, 1051], "nice": false, "zero": false},
       "axis": {"orient": "bottom", "offset": -285, "title": "Wavelength (nm)",
         "values": [340, 360, 380], "format": "d", "labelOverlap": false,
         "domain": false, "ticks": true, "tickSize": 9,
         "labelFontSize": 35, "labelPadding": 4,
         "grid": false, "titleFontSize": 38, "titlePadding": 8}}
    }
   }
  ],
  "resolve": {"scale": {"x": "independent"}}
 }
],
"resolve": {"scale": {"x": "independent", "y": "independent"}}
}
